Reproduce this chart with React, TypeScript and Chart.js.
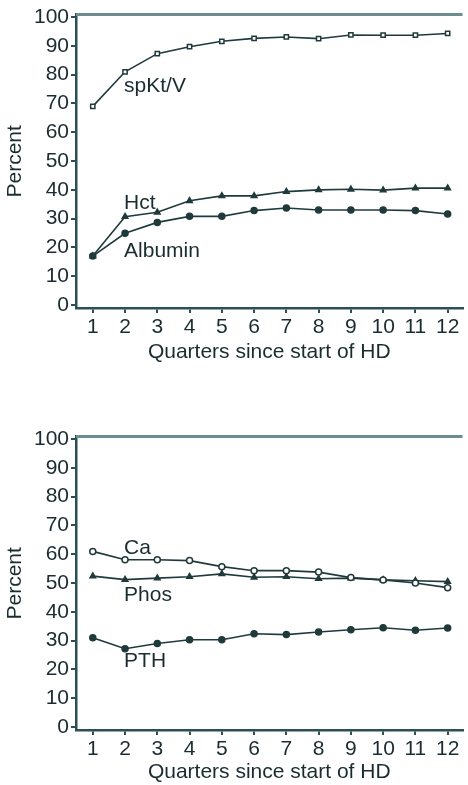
import React, { useEffect, useRef } from "react";
import { Chart, registerables } from "chart.js";

Chart.register(...registerables);

// ---------- data ----------
const quarters = [1, 2, 3, 4, 5, 6, 7, 8, 9, 10, 11, 12];
const yTicks = [0, 10, 20, 30, 40, 50, 60, 70, 80, 90, 100];

const spKtV = [69, 81, 87.3, 89.7, 91.6, 92.6, 93.1, 92.5, 93.8, 93.7, 93.7, 94.3];
const hct = [17, 30.7, 32.2, 36.2, 37.9, 37.9, 39.4, 40.0, 40.2, 39.9, 40.6, 40.6];
const albumin = [17, 24.9, 28.7, 30.8, 30.8, 32.8, 33.7, 33.0, 33.0, 33.0, 32.8, 31.6];

const ca = [61.0, 58.1, 58.1, 57.8, 55.7, 54.3, 54.3, 53.8, 51.9, 51.1, 50.0, 48.4];
const phos = [52.4, 51.2, 51.7, 52.2, 53.2, 52.0, 52.2, 51.5, 51.7, 51.1, 50.8, 50.5];
const pth = [31.0, 27.2, 29.0, 30.3, 30.3, 32.4, 32.1, 33.0, 33.8, 34.5, 33.6, 34.4];

const topLabels = [
  { text: "spKt/V", x: 1.97, y: 74.1 },
  { text: "Hct", x: 1.97, y: 33.4 },
  { text: "Albumin", x: 1.97, y: 16.6 },
];
const bottomLabels = [
  { text: "Ca", x: 1.97, y: 60.2 },
  { text: "Phos", x: 1.97, y: 43.9 },
  { text: "PTH", x: 1.97, y: 20.8 },
];

const xTitle = "Quarters since start of HD";
const yTitle = "Percent";

// ---------- styles ----------
const FONT = "'Liberation Sans', Arial, Helvetica, sans-serif";
const TEXT = "#1a2c30";
const LINE = "#203a3c";
const AXIS = "#2c4f55";
const TOPBORDER = "#6d8c90";

type Series = { data: number[]; style: string; fill: boolean };

function makeConfig(series: Series[], labels: { text: string; x: number; y: number }[], xAxisHeight: number): any {
  const annot = {
    id: "annot",
    afterDraw(chart: any) {
      const { ctx, chartArea, scales } = chart;
      ctx.save();
      ctx.strokeStyle = TOPBORDER;
      ctx.lineWidth = 3;
      ctx.beginPath();
      ctx.moveTo(chartArea.left, chartArea.top);
      ctx.lineTo(chartArea.right, chartArea.top);
      ctx.stroke();
      ctx.fillStyle = TEXT;
      ctx.font = `21px ${FONT}`;
      ctx.textAlign = "left";
      ctx.textBaseline = "alphabetic";
      for (const l of labels) {
        ctx.fillText(l.text, scales.x.getPixelForValue(l.x), scales.y.getPixelForValue(l.y));
      }
      ctx.restore();
    },
  };
  return {
    type: "line",
    data: {
      datasets: series.map((s) => ({
        data: quarters.map((q, i) => ({ x: q, y: s.data[i] })),
        borderColor: LINE,
        borderWidth: 1.6,
        pointStyle: s.style,
        pointRadius: s.style === "triangle" ? 3.2 : 3,
        pointBackgroundColor: s.fill ? LINE : "#ffffff",
        pointBorderColor: LINE,
        pointBorderWidth: 1.5,
        tension: 0,
        fill: false,
      })),
    },
    options: {
      animation: false,
      responsive: false,
      devicePixelRatio: 1,
      layout: { padding: { top: 12, left: 0, right: 0, bottom: 0 } },
      plugins: { legend: { display: false }, tooltip: { enabled: false } },
      scales: {
        x: {
          type: "linear",
          min: 0.48,
          max: 12.46,
          afterBuildTicks: (s: any) => {
            s.ticks = quarters.map((v) => ({ value: v }));
          },
          afterFit: (s: any) => {
            s.height = xAxisHeight;
          },
          border: { display: true, color: AXIS, width: 2.5 },
          grid: {
            display: true,
            drawOnChartArea: false,
            drawTicks: true,
            tickLength: 5,
            tickColor: AXIS,
            lineWidth: 2,
          },
          ticks: {
            color: TEXT,
            font: { family: FONT, size: 21 },
            padding: 2,
            maxRotation: 0,
            autoSkip: false,
          },
          title: {
            display: true,
            text: xTitle,
            color: TEXT,
            font: { family: FONT, size: 21 },
            padding: { top: 0, bottom: 0 },
          },
        },
        y: {
          type: "linear",
          min: -1.03,
          max: 100.86,
          afterBuildTicks: (s: any) => {
            s.ticks = yTicks.map((v) => ({ value: v }));
          },
          afterFit: (s: any) => {
            s.width = 76;
          },
          border: { display: true, color: AXIS, width: 2.5 },
          grid: {
            display: true,
            drawOnChartArea: false,
            drawTicks: true,
            tickLength: 5,
            tickColor: AXIS,
            lineWidth: 2,
          },
          ticks: {
            color: TEXT,
            font: { family: FONT, size: 21 },
            padding: 2,
          },
          title: {
            display: true,
            text: yTitle,
            color: TEXT,
            font: { family: FONT, size: 21 },
            padding: { top: 3, bottom: 0 },
          },
        },
      },
    },
    plugins: [annot],
  };
}

function Panel({ series, labels, top, height }: { series: Series[]; labels: any[]; top: number; height: number }) {
  const ref = useRef<HTMLCanvasElement>(null);
  useEffect(() => {
    if (!ref.current) return;
    const chart = new Chart(ref.current, makeConfig(series, labels, height - 308));
    return () => chart.destroy();
  }, []);
  return (
    <canvas
      ref={ref}
      width={468}
      height={height}
      style={{ position: "absolute", left: 0, top, width: 468, height, display: "block" }}
    />
  );
}

export default function App() {
  return (
    <div style={{ position: "absolute", left: 0, top: 0, width: 468, height: 785, background: "#ffffff", overflow: "hidden" }}>
      <Panel
        top={0}
        height={365}
        labels={topLabels}
        series={[
          { data: spKtV, style: "rect", fill: false },
          { data: hct, style: "triangle", fill: true },
          { data: albumin, style: "circle", fill: true },
        ]}
      />
      <Panel
        top={422}
        height={363}
        labels={bottomLabels}
        series={[
          { data: ca, style: "circle", fill: false },
          { data: phos, style: "triangle", fill: true },
          { data: pth, style: "circle", fill: true },
        ]}
      />
    </div>
  );
}
